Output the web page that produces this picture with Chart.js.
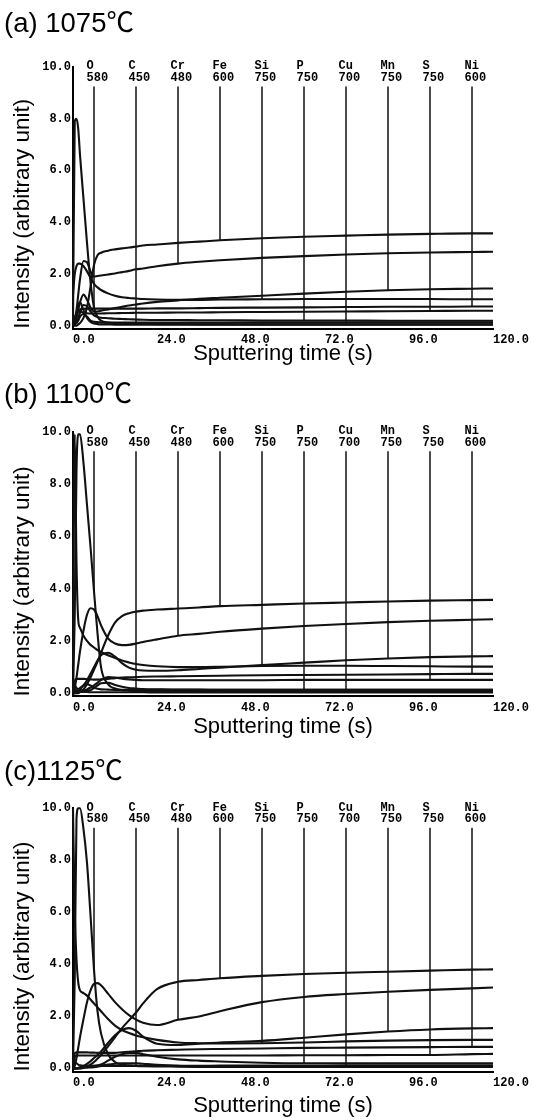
<!DOCTYPE html>
<html><head><meta charset="utf-8">
<script src="https://cdn.jsdelivr.net/npm/chart.js@4.4.1/dist/chart.umd.min.js"></script>
<style>
html,body{margin:0;padding:0;background:#fff;}
#wrap{position:relative;width:534px;height:1120px;overflow:hidden;}
canvas{position:absolute;left:0;}
</style></head><body>
<div id="wrap">
<canvas id="ca" width="534" height="370" style="top:0px"></canvas>
<canvas id="cb" width="534" height="375" style="top:370px"></canvas>
<canvas id="cc" width="534" height="375" style="top:745px"></canvas>
</div>
<script>
// ---- data ----
const TIME = [0,0.5,1,1.5,2,3,4,5,6,7,8,10,12,14,16,18,20,24,30,36,42,54,66,78,90,102,114,120];
const ELEMENTS = ['O','C','Cr','Fe','Si','P','Cu','Mn','S','Ni'];
const VOLTAGES = ['580','450','480','600','750','750','700','750','750','600'];
const MARK_TIME = [6,18,30,42,54,66,78,90,102,114];
const X_TICKS = [0,24,48,72,96,120];
const Y_TICKS = [0,2,4,6,8,10];
const TITLES = ['(a) 1075℃','(b) 1100℃','(c)1125℃'];

// (a) 1075 C
const A_O  = [0,7.9,8.0,7.6,6.6,4.9,3.2,1.7,0.7,0.35,0.2,0.12,0.1,0.08,0.08,0.07,0.07,0.06,0.06,0.05,0.05,0.05,0.05,0.05,0.05,0.05,0.05,0.05];
const A_C  = [0,0.2,0.5,0.8,0.9,0.6,0.3,0.15,0.08,0.06,0.05,0.05,0.04,0.04,0.04,0.04,0.04,0.04,0.04,0.04,0.04,0.04,0.04,0.04,0.04,0.04,0.04,0.04];
const A_Cr = [0,0.2,0.6,1.2,1.8,2.5,2.45,2.1,1.9,1.92,1.94,1.98,2.02,2.07,2.12,2.18,2.21,2.3,2.4,2.47,2.53,2.62,2.69,2.75,2.8,2.83,2.85,2.86];
const A_Fe = [0,0,0,0.05,0.1,0.3,0.7,1.5,2.35,2.72,2.82,2.9,2.95,2.99,3.02,3.06,3.1,3.14,3.2,3.25,3.3,3.38,3.44,3.48,3.52,3.55,3.57,3.57];
const A_Si = [1.2,2.0,2.3,2.4,2.4,2.3,2.1,1.85,1.62,1.48,1.38,1.25,1.16,1.1,1.07,1.05,1.03,1.01,1.0,1.0,1.01,1.02,1.03,1.03,1.03,1.03,1.02,1.02];
const A_P  = [0,0.05,0.15,0.3,0.5,0.8,0.75,0.55,0.4,0.34,0.31,0.29,0.27,0.26,0.25,0.24,0.23,0.22,0.22,0.21,0.21,0.2,0.2,0.2,0.19,0.19,0.19,0.19];
const A_Cu = [0,0.05,0.1,0.2,0.35,0.45,0.35,0.2,0.15,0.14,0.13,0.12,0.12,0.12,0.12,0.12,0.12,0.12,0.12,0.12,0.12,0.13,0.13,0.13,0.13,0.13,0.13,0.13];
const A_Mn = [0,0.1,0.3,0.6,0.9,1.2,1.0,0.7,0.55,0.55,0.58,0.63,0.68,0.73,0.78,0.82,0.86,0.92,0.98,1.04,1.08,1.16,1.24,1.31,1.37,1.41,1.43,1.44];
const A_S  = [0,0.3,0.5,0.55,0.55,0.5,0.48,0.47,0.47,0.47,0.47,0.48,0.48,0.49,0.49,0.5,0.5,0.5,0.51,0.51,0.52,0.53,0.54,0.55,0.56,0.57,0.58,0.58];
const A_Ni = [0,0.2,0.4,0.55,0.62,0.65,0.66,0.66,0.66,0.66,0.66,0.66,0.66,0.66,0.66,0.66,0.66,0.67,0.67,0.68,0.69,0.7,0.71,0.72,0.73,0.73,0.74,0.74];

// (b) 1100 C
const B_O  = [0,3.0,8.5,9.9,9.9,8.8,7.2,5.6,3.9,2.3,1.0,0.35,0.18,0.12,0.1,0.09,0.08,0.07,0.06,0.05,0.05,0.05,0.05,0.05,0.05,0.05,0.05,0.05];
const B_C  = [0.3,0.15,0.08,0.06,0.05,0.05,0.05,0.04,0.04,0.04,0.04,0.04,0.04,0.04,0.04,0.04,0.04,0.03,0.03,0.03,0.03,0.03,0.03,0.03,0.03,0.03,0.03,0.03];
const B_Cr = [0,0.2,0.6,1.1,1.6,2.4,3.0,3.25,3.2,2.95,2.6,2.1,1.9,1.84,1.85,1.9,1.96,2.06,2.2,2.27,2.35,2.47,2.57,2.65,2.72,2.77,2.81,2.83];
const B_Fe = [0,0,0,0,0.05,0.15,0.35,0.6,0.9,1.2,1.55,2.2,2.7,2.95,3.06,3.12,3.16,3.2,3.24,3.28,3.33,3.38,3.43,3.47,3.51,3.54,3.56,3.57];
const B_Si = [1.0,9.9,5.0,2.8,2.5,2.2,2.0,1.85,1.75,1.65,1.58,1.45,1.35,1.25,1.18,1.12,1.08,1.03,1.0,1.0,1.01,1.04,1.05,1.05,1.04,1.03,1.02,1.02];
const B_P  = [0.2,0.3,0.2,0.15,0.12,0.1,0.1,0.12,0.2,0.3,0.38,0.4,0.32,0.25,0.2,0.18,0.16,0.15,0.14,0.14,0.13,0.13,0.13,0.13,0.13,0.13,0.13,0.13];
const B_Cu = [0,0.05,0.1,0.15,0.2,0.3,0.35,0.3,0.22,0.17,0.15,0.14,0.13,0.13,0.13,0.13,0.13,0.13,0.13,0.13,0.13,0.13,0.13,0.13,0.13,0.13,0.13,0.13];
const B_Mn = [0,0,0.05,0.1,0.15,0.3,0.5,0.75,1.0,1.25,1.45,1.55,1.4,1.15,0.98,0.9,0.87,0.86,0.88,0.93,0.98,1.08,1.17,1.26,1.33,1.38,1.41,1.42];
const B_S  = [0,0,0.02,0.03,0.05,0.1,0.15,0.22,0.3,0.4,0.5,0.62,0.6,0.56,0.53,0.51,0.5,0.5,0.5,0.5,0.5,0.5,0.51,0.51,0.51,0.51,0.51,0.51];
const B_Ni = [0,0.45,0.55,0.55,0.55,0.55,0.54,0.53,0.52,0.52,0.53,0.55,0.58,0.6,0.61,0.62,0.63,0.64,0.65,0.66,0.67,0.69,0.7,0.71,0.72,0.73,0.74,0.74];

// (c) 1125 C
const C_O  = [0.2,3.5,9.6,10,10,9.2,7.9,5.9,3.8,2.2,1.35,0.55,0.25,0.15,0.12,0.1,0.09,0.08,0.07,0.06,0.06,0.06,0.06,0.06,0.06,0.06,0.06,0.06];
const C_C  = [0.3,0.25,0.2,0.15,0.12,0.1,0.1,0.1,0.1,0.1,0.1,0.1,0.1,0.1,0.1,0.1,0.1,0.1,0.1,0.1,0.11,0.11,0.11,0.12,0.12,0.12,0.12,0.12];
const C_Cr = [0,0.1,0.4,0.8,1.2,1.9,2.55,3.0,3.25,3.28,3.2,2.88,2.55,2.28,2.05,1.88,1.76,1.67,1.87,2.0,2.2,2.55,2.75,2.86,2.95,3.02,3.08,3.11];
const C_Fe = [0,0,0,0,0,0.03,0.08,0.15,0.25,0.38,0.52,0.85,1.2,1.55,1.85,2.15,2.5,3.05,3.33,3.4,3.47,3.56,3.63,3.68,3.72,3.76,3.8,3.81];
const C_Si = [10,6.0,4.2,3.3,3.0,2.9,2.8,2.65,2.5,2.35,2.2,1.9,1.65,1.48,1.36,1.27,1.2,1.1,1.0,0.97,0.96,0.97,1.0,1.04,1.07,1.09,1.1,1.1];
const C_P  = [0,0,0,0.02,0.03,0.05,0.06,0.08,0.1,0.12,0.15,0.3,0.45,0.55,0.6,0.6,0.55,0.45,0.35,0.3,0.27,0.22,0.2,0.2,0.2,0.2,0.2,0.2];
const C_Cu = [0,0,0,0,0.01,0.02,0.03,0.04,0.05,0.07,0.1,0.15,0.18,0.2,0.2,0.2,0.18,0.14,0.1,0.08,0.07,0.07,0.07,0.07,0.07,0.07,0.07,0.07];
const C_Mn = [0,0,0,0.02,0.05,0.1,0.18,0.28,0.4,0.52,0.65,0.98,1.28,1.48,1.55,1.45,1.22,0.95,0.9,0.95,1.0,1.06,1.18,1.31,1.42,1.5,1.54,1.55];
const C_S  = [0,0.45,0.5,0.5,0.5,0.5,0.5,0.5,0.5,0.5,0.5,0.5,0.5,0.5,0.5,0.5,0.5,0.5,0.5,0.5,0.5,0.5,0.51,0.51,0.52,0.52,0.55,0.56];
const C_Ni = [0,0.58,0.62,0.62,0.62,0.62,0.62,0.61,0.61,0.6,0.6,0.6,0.6,0.62,0.64,0.66,0.68,0.7,0.72,0.74,0.75,0.77,0.79,0.8,0.81,0.82,0.83,0.83];

const PANEL_A = {O:A_O,C:A_C,Cr:A_Cr,Fe:A_Fe,Si:A_Si,P:A_P,Cu:A_Cu,Mn:A_Mn,S:A_S,Ni:A_Ni};
const PANEL_B = {O:B_O,C:B_C,Cr:B_Cr,Fe:B_Fe,Si:B_Si,P:B_P,Cu:B_Cu,Mn:B_Mn,S:B_S,Ni:B_Ni};
const PANEL_C = {O:C_O,C:C_C,Cr:C_Cr,Fe:C_Fe,Si:C_Si,P:C_P,Cu:C_Cu,Mn:C_Mn,S:C_S,Ni:C_Ni};

// ---- drawing ----
const MARK_TOP = 9.25, NAME_LEVEL = 10.02, VOLT_LEVEL = 9.58;
const SANS = '"Liberation Sans", Arial, sans-serif';
const TITLE_FONT = '"Liberation Sans", "Noto Sans CJK JP", sans-serif';
const MONO = '"Liberation Mono", "DejaVu Sans Mono", monospace';

const labelPlugin = {
  id: 'elementLabels',
  afterDatasetsDraw(chart) {
    const {ctx, scales: {x, y}} = chart;
    ctx.save();
    ctx.fillStyle = '#000';
    ctx.font = 'bold 12px ' + MONO;
    ctx.textAlign = 'left';
    ctx.textBaseline = 'middle';
    ELEMENTS.forEach((el, k) => {
      const px = x.getPixelForValue(MARK_TIME[k]) - 7.5;
      ctx.fillText(el, px, y.getPixelForValue(NAME_LEVEL));
      ctx.fillText(VOLTAGES[k], px, y.getPixelForValue(VOLT_LEVEL));
    });
    ctx.restore();
  }
};

function makeChart(id, title, series, L) {
  const datasets = [];
  ELEMENTS.forEach(el => {
    const vals = series[el];
    datasets.push({
      label: el, data: TIME.map((t, i) => ({x: t, y: vals[i]})),
      borderColor: '#111', borderWidth: 2.1, pointRadius: 0,
      cubicInterpolationMode: 'monotone', clip: 6
    });
  });
  ELEMENTS.forEach((el, k) => {
    const vals = series[el], t = MARK_TIME[k];
    datasets.push({
      label: el + ' marker',
      data: [{x: t, y: vals[TIME.indexOf(t)]}, {x: t, y: MARK_TOP}],
      borderColor: '#111', borderWidth: 1.5, pointRadius: 0, clip: 6
    });
  });
  return new Chart(document.getElementById(id), {
    type: 'line',
    data: {datasets},
    options: {
      responsive: false, animation: false, devicePixelRatio: 1,
      layout: {padding: {left: 4, right: 41, top: 0, bottom: 0}},
      plugins: {
        legend: {display: false}, tooltip: {enabled: false},
        title: {display: true, text: title, align: 'start', color: '#000',
          font: {family: TITLE_FONT, size: 27.5, weight: 'normal', lineHeight: 1.2},
          padding: {top: L.tTop, bottom: L.tBottom}}
      },
      scales: {
        x: {
          type: 'linear', min: 0, max: 120,
          afterBuildTicks: s => { s.ticks = X_TICKS.map(v => ({value: v})); },
          afterFit: s => { s.height = L.xH; },
          grid: {display: false, drawTicks: false},
          border: {display: true, color: '#000', width: 2},
          ticks: {align: 'start', padding: 4, color: '#000', maxRotation: 0, autoSkip: false,
            font: {family: MONO, size: 12, weight: 'bold'}, callback: v => Number(v).toFixed(1)},
          title: {display: true, text: 'Sputtering time (s)', color: '#000',
            font: {family: SANS, size: 22, weight: 'normal', lineHeight: 1.2},
            padding: {top: 0, bottom: L.xtPad}}
        },
        y: {
          type: 'linear', min: -0.12, max: 10,
          afterBuildTicks: s => { s.ticks = Y_TICKS.map(v => ({value: v})); },
          afterFit: s => { s.width = 69; },
          grid: {display: false, drawTicks: false},
          border: {display: true, color: '#000', width: 2},
          ticks: {padding: 2, color: '#000', autoSkip: false,
            font: {family: MONO, size: 12, weight: 'bold'}, callback: v => Number(v).toFixed(1)},
          title: {display: true, text: 'Intensity (arbitrary unit)', align: 'start', color: '#000',
            font: {family: SANS, size: 22.5, weight: 'normal', lineHeight: 1.2},
            padding: {top: 5.5, bottom: 0}}
        }
      }
    },
    plugins: [labelPlugin]
  });
}

makeChart('ca', TITLES[0], PANEL_A, {tTop: 7.5, tBottom: 26.5, xH: 41.2, xtPad: 3.3});
makeChart('cb', TITLES[1], PANEL_B, {tTop: 9, tBottom: 19.7, xH: 48.6, xtPad: 4.8});
makeChart('cc', TITLES[2], PANEL_C, {tTop: 10.5, tBottom: 19.8, xH: 48.4, xtPad: 0.8});
</script>
</body></html>
